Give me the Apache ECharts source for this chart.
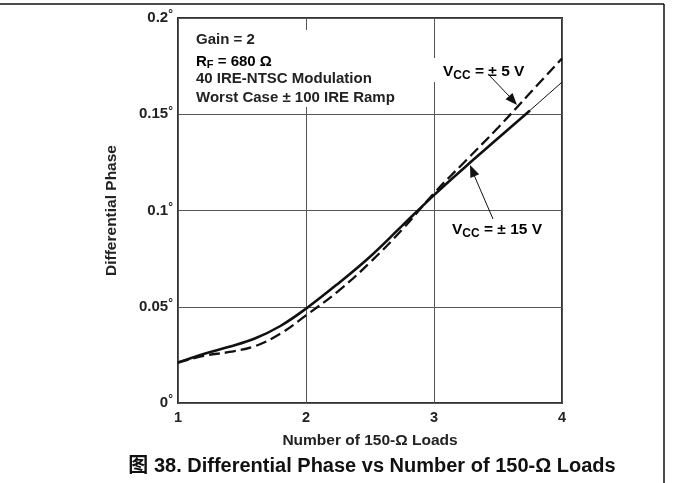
<!DOCTYPE html>
<html>
<head>
<meta charset="utf-8">
<script src="https://cdn.jsdelivr.net/npm/echarts@6/dist/echarts.min.js"></script>
<style>
html,body{margin:0;padding:0;background:#fff;}
#c{width:673px;height:483px;}
</style>
</head>
<body>
<div id="c"></div>
<script>
// Data
const xTicks = [1, 2, 3, 4];
const yTicks = [0, 0.05, 0.1, 0.15, 0.2];
const yTickLabels = ['0', '0.05', '0.1', '0.15', '0.2'];
const loads = [1, 1.2, 1.4, 1.6, 1.8, 2, 2.25, 2.5, 2.75, 3, 3.25, 3.5, 3.75];
const phase15V = [0.021, 0.0255, 0.0292, 0.0335, 0.040, 0.049, 0.062, 0.076, 0.092, 0.108, 0.123, 0.1375, 0.152];
const loadsTail = [3.75, 4];
const phase15VTail = [0.152, 0.1667];
const loads5V = [1, 1.2, 1.4, 1.6, 1.8, 2, 2.25, 2.5, 2.75, 3, 3.25, 3.5, 3.75, 4];
const phase5V = [0.021, 0.0245, 0.0265, 0.0295, 0.036, 0.0455, 0.058, 0.073, 0.090, 0.109, 0.126, 0.143, 0.161, 0.179];

const zip = (a, b) => a.map((v, i) => [v, b[i]]);
const FONT = '"Liberation Sans", Arial, sans-serif';

const chart = echarts.init(document.getElementById('c'), null, {renderer: 'canvas'});
const txt = (x, y, text, size) => ({type: 'text', z: 10, style: {x: x, y: y, text: text, font: 'bold ' + size + 'px ' + FONT, fill: '#222', verticalAlign: 'middle'}});
const subText = (x, y, main, sub, rest, size, subSize, drop) => ({type: 'text', z: 10, style: {x: x, y: y, verticalAlign: 'middle',
  text: '{a|' + main + '}{s|' + sub + '}{a|' + rest + '}',
  rich: {a: {fontFamily: FONT, fontWeight: 'bold', fontSize: size, color: '#222'},
         s: {fontFamily: FONT, fontWeight: 'bold', fontSize: subSize, color: '#222', padding: [drop, 0, 0, 0]}}}});

const option = {
  animation: false,
  backgroundColor: '#fff',
  grid: {left: 178, top: 18, width: 384, height: 385, show: true, borderColor: '#333', borderWidth: 2, backgroundColor: 'transparent'},
  xAxis: {
    type: 'value', min: 1, max: 4, interval: 1,
    name: 'Number of 150-Ω Loads', nameLocation: 'middle', nameGap: 30,
    nameTextStyle: {fontFamily: FONT, fontWeight: 'bold', fontSize: 15.5, color: '#222'},
    axisLine: {show: false}, axisTick: {show: false},
    axisLabel: {fontFamily: FONT, fontWeight: 'bold', fontSize: 14.5, color: '#222', margin: 7},
    splitLine: {show: true, lineStyle: {color: '#555', width: 1}}
  },
  yAxis: {
    type: 'value', min: 0, max: 0.2, interval: 0.05,
    name: 'Differential Phase', nameLocation: 'middle', nameGap: 58, nameRotate: 90,
    nameTextStyle: {fontFamily: FONT, fontWeight: 'bold', fontSize: 15.5, color: '#222'},
    axisLine: {show: false}, axisTick: {show: false},
    axisLabel: {fontWeight: 'bold', color: '#222', margin: 5,
      formatter: v => {
        const i = yTicks.findIndex(t => Math.abs(t - v) < 1e-9);
        return '{n|' + (i >= 0 ? yTickLabels[i] : v) + '}{d|°}';
      },
      rich: {n: {fontFamily: FONT, fontWeight: 'bold', fontSize: 15, color: '#222'},
             d: {fontFamily: FONT, fontSize: 12, color: '#222', verticalAlign: 'top', padding: [0, 0, 6, 0]}}},
    splitLine: {show: true, lineStyle: {color: '#555', width: 1}}
  },
  series: [
    {type: 'line', data: zip(loads5V, phase5V), smooth: 0.4, symbol: 'none',
     lineStyle: {color: '#111', width: 2.3, type: [11, 5]}, z: 3},
    {type: 'line', data: zip(loads, phase15V), smooth: 0.4, symbol: 'none',
     lineStyle: {color: '#111', width: 2.6}, z: 4},
    {type: 'line', data: zip(loadsTail, phase15VTail), smooth: false, symbol: 'none',
     lineStyle: {color: '#111', width: 1}, z: 4}
  ],
  graphic: [
    {type: 'line', shape: {x1: 0, y1: 4, x2: 664, y2: 4}, style: {stroke: '#111', lineWidth: 1.5}, silent: true},
    {type: 'line', shape: {x1: 664, y1: 4, x2: 664, y2: 483}, style: {stroke: '#111', lineWidth: 1.5}, silent: true},
    // white boxes behind annotations (hide grid lines like the reference)
    {type: 'rect', z: 5, shape: {x: 190, y: 30, width: 218, height: 77}, style: {fill: '#fff'}},
    {type: 'rect', z: 5, shape: {x: 430, y: 58, width: 104, height: 24}, style: {fill: '#fff'}},
    {type: 'rect', z: 5, shape: {x: 447, y: 212, width: 113, height: 30}, style: {fill: '#fff'}},
    txt(196, 40, 'Gain = 2', 15),
    subText(196, 62, 'R', 'F', ' = 680 Ω', 15, 11, 6),
    txt(196, 79, '40 IRE-NTSC Modulation', 15),
    txt(196, 98, 'Worst Case ± 100 IRE Ramp', 15),
    subText(443, 72, 'V', 'CC', ' = ± 5 V', 15.5, 12, 7),
    subText(452, 230, 'V', 'CC', ' = ± 15 V', 15.5, 12, 7),
    {type: 'line', z: 6, shape: {x1: 488, y1: 74, x2: 510, y2: 97}, style: {stroke: '#111', lineWidth: 1}},
    {type: 'polygon', z: 6, shape: {points: [[517, 105], [505.5, 99.3], [512.5, 92.9]]}, style: {fill: '#111'}},
    {type: 'line', z: 6, shape: {x1: 493, y1: 219, x2: 474, y2: 175}, style: {stroke: '#111', lineWidth: 1}},
    {type: 'polygon', z: 6, shape: {points: [[470, 165], [479.2, 174.2], [470.4, 178]]}, style: {fill: '#111'}},
    {type: 'text', z: 10, style: {x: 372, y: 466, align: 'center', verticalAlign: 'middle', text: '图 38. Differential Phase vs Number of 150-Ω Loads', font: 'bold 20px "Liberation Sans", "Noto Sans CJK SC", sans-serif', fill: '#111'}}
  ]
};
chart.setOption(option);
</script>
</body>
</html>
